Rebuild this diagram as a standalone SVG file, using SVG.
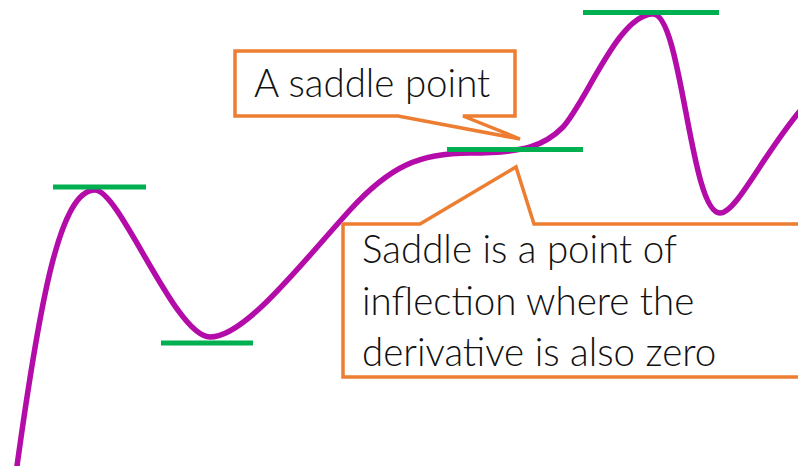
<svg xmlns="http://www.w3.org/2000/svg" width="798" height="466" viewBox="0 0 798 466">
<style>
.curve{fill:none;stroke:#b30ca9;stroke-width:5.5;stroke-linecap:round;stroke-linejoin:round}
.tan{stroke:#00b050;stroke-width:5;fill:none}
.call{fill:#ffffff;stroke:#ed7d31;stroke-width:3.5;stroke-linejoin:miter}
.lbl{font-family:Lato,"Open Sans","Liberation Sans",sans-serif;font-weight:300;font-size:38.5px;fill:#111111}
</style>
<rect width="798" height="466" fill="#ffffff"/>
<g id="curve">
<path class="curve" d="M17,466 C40,300 60,190 95,190 C120,190 175,337 210,337 C245,337 300,265 350,210 C390,166 420,153 470,153 C525,153 545,145 562,128 C585,105 618,14 653,14 C682,14 690,213 720,213 C737,213 765,150 805,105"/>
</g>
<g id="tangents">
<line id="tan-max1" class="tan" x1="53" y1="187" x2="146" y2="187"/>
<line id="tan-min1" class="tan" x1="161" y1="343" x2="253" y2="343"/>
<line id="tan-saddle" class="tan" x1="447" y1="149.5" x2="583" y2="149.5"/>
<line id="tan-max2" class="tan" x1="583" y1="12.5" x2="719" y2="12.5"/>
</g>
<g id="callout-saddle">
<path class="call" d="M235,51 L515,51 L515,116 L463,116 L520,139 L398,116 L235,116 Z"/>
<text class="lbl" x="254" y="97">A saddle point</text>
</g>
<g id="callout-inflection">
<path class="call" d="M343,224 L420,224 L516,167 L534,224 L812,224 L812,377 L343,377 Z"/>
<text class="lbl" x="362" y="263">Saddle is a point of</text>
<text class="lbl" x="362" y="315">inflection where the</text>
<text class="lbl" x="362" y="366">derivative is also zero</text>
</g>
</svg>
